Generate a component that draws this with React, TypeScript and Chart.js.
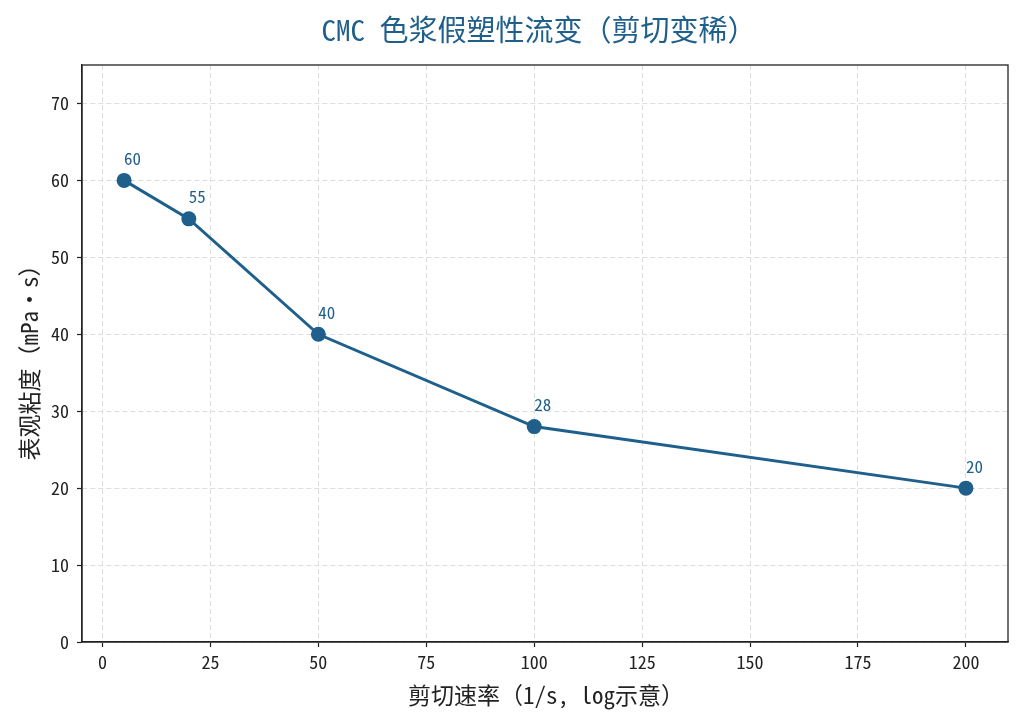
import React, { useEffect, useRef } from 'react';
import { Chart, registerables } from 'chart.js';

Chart.register(...registerables);

// shear rate (1/s) and apparent viscosity (mPa·s)
const shearRates = [5, 20, 50, 100, 200];
const viscosity = [60, 55, 40, 28, 20];
const xTicks = [0, 25, 50, 75, 100, 125, 150, 175, 200];
const yTicks = [0, 10, 20, 30, 40, 50, 60, 70];

const TITLE = 'CMC 色浆假塑性流变（剪切变稀）';
const X_TITLE = '剪切速率（1/s, log示意）';
const Y_TITLE = '表观粘度（mPa·s）';

const BLUE = '#1f5f8b';
const INK = '#222';
const FONT = "'Noto Sans Mono CJK SC', 'Noto Sans CJK SC', 'DejaVu Sans Mono', sans-serif";

// frame, titles and point labels
const decorPlugin = {
    id: 'decor',
    afterDraw(chart: any) {
        const { ctx, chartArea } = chart;
        ctx.save();
        ctx.strokeStyle = INK;
        ctx.lineWidth = 1.3;
        ctx.strokeRect(chartArea.left, chartArea.top, chartArea.right - chartArea.left, chartArea.bottom - chartArea.top);

        ctx.textAlign = 'center';
        ctx.textBaseline = 'middle';

        // chart title
        ctx.fillStyle = BLUE;
        ctx.font = `29px ${FONT}`;
        ctx.fillText(TITLE, 539, 30);

        // axis titles
        ctx.fillStyle = INK;
        ctx.font = `23px ${FONT}`;
        ctx.fillText(X_TITLE, 546, 695);
        ctx.save();
        ctx.translate(29, 357);
        ctx.rotate(-Math.PI / 2);
        ctx.fillText(Y_TITLE, 0, 0);
        ctx.restore();

        // value labels above the points
        const meta = chart.getDatasetMeta(0);
        ctx.fillStyle = BLUE;
        ctx.font = `17px ${FONT}`;
        ctx.textAlign = 'left';
        meta.data.forEach((pt: any, i: number) => {
            ctx.fillText(String(viscosity[i]), pt.x, pt.y - 22);
        });
        ctx.restore();
    },
};

const ViscosityChart: React.FC = () => {
    const canvasRef = useRef<HTMLCanvasElement>(null);
    const chartRef = useRef<Chart | null>(null);

    useEffect(() => {
        if (!canvasRef.current) return;
        if (chartRef.current) chartRef.current.destroy();

        const gridStyle = {
            color: '#dedede',
            lineWidth: 1,
            tickColor: INK,
            tickLength: 5,
            tickBorderDash: [],
            tickWidth: 1.2,
        };
        const borderStyle = { display: true, color: INK, width: 1.3, dash: [5, 3] };

        chartRef.current = new Chart(canvasRef.current, {
            type: 'scatter',
            data: {
                datasets: [
                    {
                        data: shearRates.map((x, i) => ({ x, y: viscosity[i] })),
                        showLine: true,
                        borderColor: BLUE,
                        backgroundColor: BLUE,
                        borderWidth: 3,
                        pointRadius: 7.5,
                        pointHoverRadius: 7.5,
                        pointBorderWidth: 0,
                    },
                ],
            },
            options: {
                animation: false,
                responsive: false,
                maintainAspectRatio: false,
                layout: { padding: { top: 65, right: 19, left: 0, bottom: 0 } },
                plugins: {
                    legend: { display: false },
                    tooltip: { enabled: false },
                    title: { display: false },
                },
                scales: {
                    x: {
                        type: 'linear',
                        min: -4.75,
                        max: 209.75,
                        afterBuildTicks: (scale: any) => {
                            scale.ticks = xTicks.map((v) => ({ value: v }));
                        },
                        afterFit: (scale: any) => {
                            scale.height = 82;
                        },
                        grid: gridStyle,
                        border: borderStyle,
                        ticks: {
                            color: INK,
                            font: { family: FONT, size: 18 },
                            padding: 4,
                            maxRotation: 0,
                        },
                    },
                    y: {
                        type: 'linear',
                        min: 0,
                        max: 75,
                        afterBuildTicks: (scale: any) => {
                            scale.ticks = yTicks.map((v) => ({ value: v }));
                        },
                        afterFit: (scale: any) => {
                            scale.width = 82;
                        },
                        grid: gridStyle,
                        border: borderStyle,
                        ticks: {
                            color: INK,
                            font: { family: FONT, size: 18 },
                            padding: 8,
                        },
                    },
                },
            },
            plugins: [decorPlugin],
        } as any);

        return () => {
            if (chartRef.current) {
                chartRef.current.destroy();
                chartRef.current = null;
            }
        };
    }, []);

    return <canvas ref={canvasRef} width={1027} height={724} style={{ display: 'block' }} />;
};

export default function App() {
    useEffect(() => {
        document.body.style.margin = '0';
        document.body.style.background = '#fff';
    }, []);
    return (
        <div style={{ width: 1027, height: 724, background: '#fff' }}>
            <ViscosityChart />
        </div>
    );
}
